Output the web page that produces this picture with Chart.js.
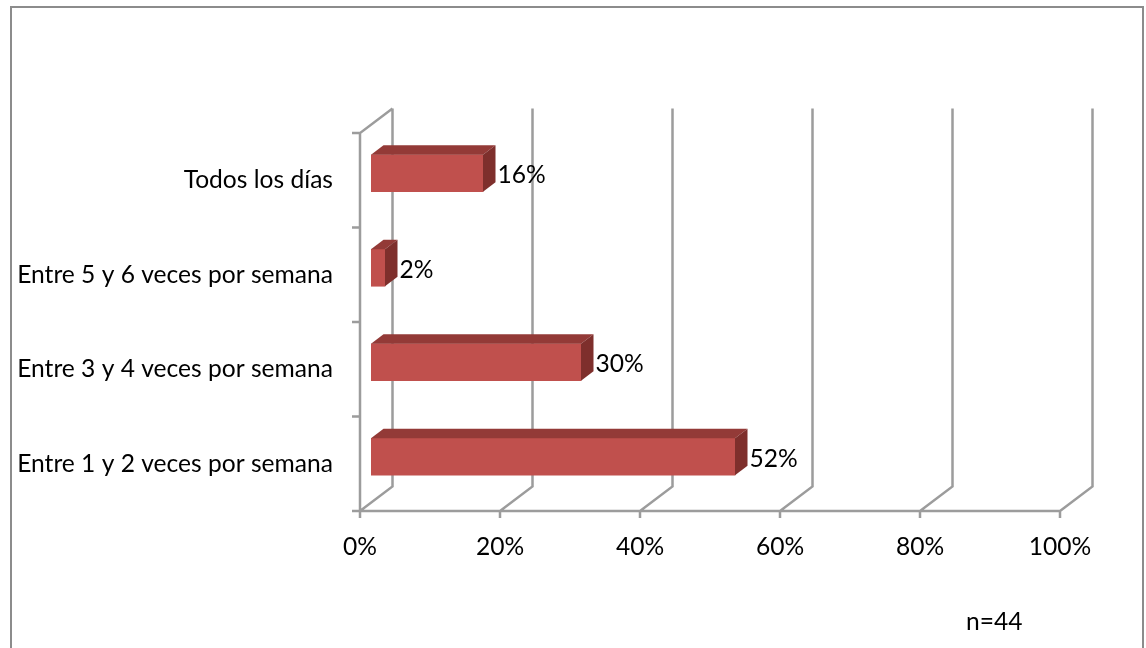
<!DOCTYPE html>
<html>
<head>
<meta charset="utf-8">
<style>
  html, body { margin: 0; padding: 0; background: #ffffff; }
  canvas { display: block; }
</style>
<script src="https://cdn.jsdelivr.net/npm/chart.js@4/dist/chart.umd.min.js"></script>
</head>
<body>
<canvas id="c" width="1146" height="648"></canvas>
<script>
// Frecuencia semanal (n=44)
const categories = [
  'Todos los días',
  'Entre 5 y 6 veces por semana',
  'Entre 3 y 4 veces por semana',
  'Entre 1 y 2 veces por semana'
];
const shares = [0.16, 0.02, 0.30, 0.52];
const valueLabels = ['16%', '2%', '30%', '52%'];
const xTicks = [0, 0.2, 0.4, 0.6, 0.8, 1.0];
const sampleNote = 'n=44';

const FONT = 'Lato, "Liberation Sans", sans-serif';
const FONT_SIZE = 24.6;
const GRID = '#9c9c9c';

// depth of the floor / back wall, and of the bars inside it
const WALL_DX = 32.5, WALL_DY = -24.5;
const BAR_SHIFT_X = 11, BAR_SHIFT_Y = -7;
const BAR_DX = 12.5, BAR_DY = -9.5;

const frame = {
  id: 'frame',
  beforeDraw(chart) {
    const ctx = chart.ctx;
    ctx.save();
    ctx.strokeStyle = '#8c8c8c';
    ctx.lineWidth = 2;
    ctx.strokeRect(11, 7, 1132, 660);
    ctx.restore();
  }
};

const walls = {
  id: 'walls',
  beforeDatasetsDraw(chart) {
    const { ctx, chartArea: a, scales: { x } } = chart;
    ctx.save();
    ctx.strokeStyle = GRID;
    ctx.lineWidth = 2.5;
    ctx.lineCap = 'butt';
    ctx.lineJoin = 'miter';
    ctx.beginPath();
    // back wall verticals and floor diagonals
    xTicks.forEach(v => {
      const px = x.getPixelForValue(v);
      ctx.moveTo(px, a.bottom);
      ctx.lineTo(px + WALL_DX, a.bottom + WALL_DY);
      ctx.lineTo(px + WALL_DX, a.top + WALL_DY);
      // tick mark below the floor edge
      ctx.moveTo(px, a.bottom);
      ctx.lineTo(px, a.bottom + 7);
    });
    // front floor edge
    ctx.moveTo(a.left - 8, a.bottom);
    ctx.lineTo(x.getPixelForValue(1), a.bottom);
    // left wall
    ctx.moveTo(a.left, a.bottom);
    ctx.lineTo(a.left, a.top);
    ctx.lineTo(a.left + WALL_DX, a.top + WALL_DY);
    // category boundary ticks
    const n = categories.length;
    for (let i = 0; i <= n; i++) {
      const py = a.top + (a.bottom - a.top) * i / n;
      ctx.moveTo(a.left - 8, py);
      ctx.lineTo(a.left, py);
    }
    ctx.stroke();
    ctx.restore();

    ctx.save();
    ctx.translate(BAR_SHIFT_X, BAR_SHIFT_Y);
  },
  afterDatasetsDraw(chart) {
    const ctx = chart.ctx;
    const meta = chart.getDatasetMeta(0);
    meta.data.forEach((bar, i) => {
      const p = bar.getProps(['x', 'y', 'base', 'height'], true);
      const x0 = Math.min(p.base, p.x), x1 = Math.max(p.base, p.x);
      const yt = p.y - p.height / 2, yb = p.y + p.height / 2;
      // top face
      ctx.fillStyle = '#933a37';
      ctx.beginPath();
      ctx.moveTo(x0, yt);
      ctx.lineTo(x1, yt);
      ctx.lineTo(x1 + BAR_DX, yt + BAR_DY);
      ctx.lineTo(x0 + BAR_DX, yt + BAR_DY);
      ctx.closePath();
      ctx.fill();
      // right face
      ctx.fillStyle = '#7e2f2c';
      ctx.beginPath();
      ctx.moveTo(x1, yt);
      ctx.lineTo(x1 + BAR_DX, yt + BAR_DY);
      ctx.lineTo(x1 + BAR_DX, yb + BAR_DY);
      ctx.lineTo(x1, yb);
      ctx.closePath();
      ctx.fill();
      // value label
      ctx.fillStyle = '#000000';
      ctx.font = FONT_SIZE + 'px ' + FONT;
      ctx.textAlign = 'left';
      ctx.textBaseline = 'middle';
      ctx.fillText(valueLabels[i], x1 + BAR_DX + 2, p.y + 2);
    });
    ctx.restore();
  },
  afterDraw(chart) {
    const ctx = chart.ctx;
    ctx.save();
    ctx.fillStyle = '#000000';
    ctx.font = FONT_SIZE + 'px ' + FONT;
    ctx.textAlign = 'left';
    ctx.textBaseline = 'middle';
    ctx.fillText(sampleNote, 966, 622);
    ctx.restore();
  }
};

new Chart(document.getElementById('c'), {
  type: 'bar',
  data: {
    labels: categories,
    datasets: [{
      data: shares,
      backgroundColor: '#c0504d',
      borderWidth: 0,
      barThickness: 37
    }]
  },
  options: {
    indexAxis: 'y',
    responsive: false,
    animation: false,
    devicePixelRatio: 1,
    layout: { padding: { left: 10, right: 86, top: 133, bottom: 0 } },
    plugins: {
      legend: { display: false },
      tooltip: { enabled: false }
    },
    scales: {
      x: {
        min: 0,
        max: 1,
        border: { display: false },
        grid: { display: false, drawTicks: false },
        afterFit(scale) { scale.height = 137; },
        afterBuildTicks(scale) { scale.ticks = xTicks.map(v => ({ value: v })); },
        ticks: {
          padding: 21,
          color: '#000000',
          font: { family: FONT, size: FONT_SIZE },
          maxRotation: 0,
          callback: v => Math.round(v * 100) + '%'
        }
      },
      y: {
        border: { display: false },
        grid: { display: false, drawTicks: false },
        afterFit(scale) { scale.width = 350; },
        ticks: {
          padding: 27,
          color: '#000000',
          font: { family: FONT, size: FONT_SIZE }
        }
      }
    }
  },
  plugins: [frame, walls]
});
</script>
</body>
</html>
